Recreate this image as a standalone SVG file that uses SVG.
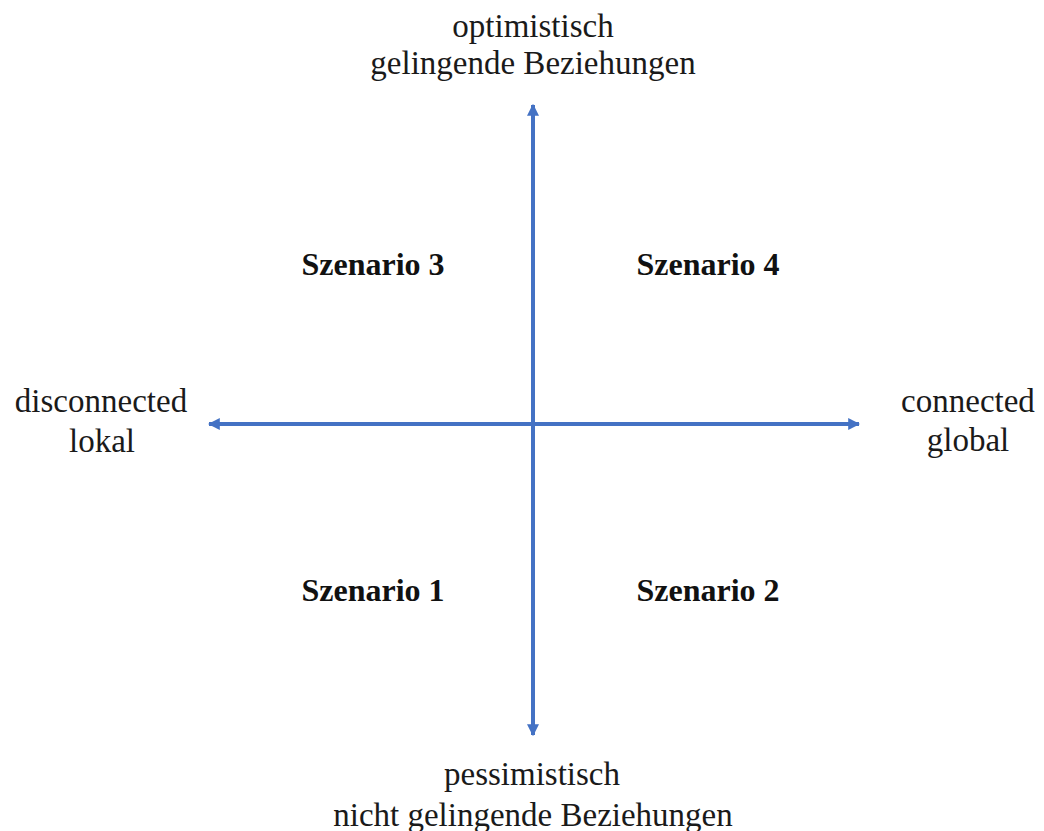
<svg xmlns="http://www.w3.org/2000/svg" width="1044" height="831" viewBox="0 0 1044 831">
<style>
.lbl{font-family:"Liberation Serif","Times New Roman",serif;font-size:33px;fill:#1a1a1a;text-anchor:middle}
.sc{font-family:"Liberation Serif","Times New Roman",serif;font-size:32px;font-weight:bold;fill:#111;text-anchor:middle}
.ax{stroke:#4472C4;stroke-width:4;fill:none}
</style>
<defs>
<marker id="ah" viewBox="0 0 10 10" refX="9" refY="5" markerWidth="3" markerHeight="3" markerUnits="strokeWidth" orient="auto-start-reverse">
<path d="M0,0 L10,5 L0,10 Z" fill="#4472C4"/>
</marker>
</defs>
<rect width="1044" height="831" fill="#fff"/>
<g id="connectors">
<line class="ax" x1="533" y1="735" x2="533" y2="105" marker-start="url(#ah)" marker-end="url(#ah)"/>
<line class="ax" x1="209" y1="424" x2="859" y2="424" marker-start="url(#ah)" marker-end="url(#ah)"/>
</g>
<g id="top"><text class="lbl" x="533" y="37">optimistisch</text><text class="lbl" x="533" y="74">gelingende Beziehungen</text></g>
<g id="bottom"><text class="lbl" x="532" y="785">pessimistisch</text><text class="lbl" x="533" y="826">nicht gelingende Beziehungen</text></g>
<g id="left"><text class="lbl" x="101" y="412">disconnected</text><text class="lbl" x="102" y="452">lokal</text></g>
<g id="right"><text class="lbl" x="968" y="412">connected</text><text class="lbl" x="968" y="451">global</text></g>
<g id="s3"><text class="sc" x="373" y="275">Szenario 3</text></g>
<g id="s4"><text class="sc" x="708" y="275">Szenario 4</text></g>
<g id="s1"><text class="sc" x="373" y="601">Szenario 1</text></g>
<g id="s2"><text class="sc" x="708" y="601">Szenario 2</text></g>
</svg>
